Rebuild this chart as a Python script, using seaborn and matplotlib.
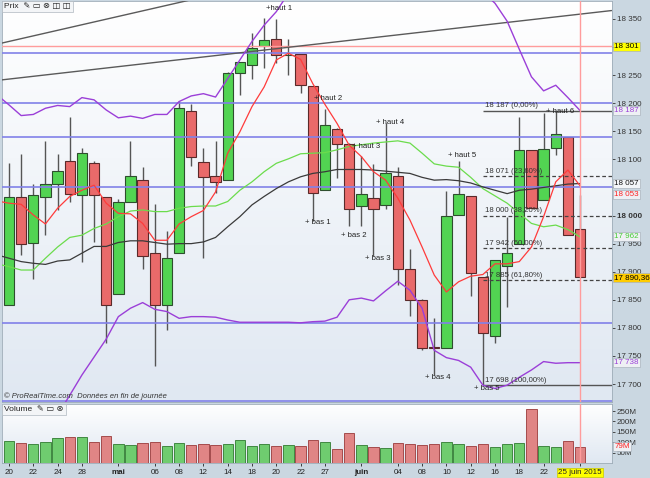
import matplotlib
matplotlib.use('Agg')
import matplotlib.pyplot as plt
import matplotlib.transforms as mtransforms
from matplotlib.colors import LinearSegmentedColormap
import numpy as np
import pandas as pd
import seaborn as sns

### Daily candles, 20 avril -> 25 juin 2015
opens = [17841, 18033, 17951, 18033, 18056, 18098, 18036, 18093, 18033, 17860,
         18025, 18063, 17934, 17840, 17933, 18187, 18095, 18070, 18063, 18253,
         18268, 18301, 18315, 18285, 18287, 18230, 18045, 18154, 18127, 18017,
         18032, 18018, 18071, 17904, 17849, 17766, 17765, 18001, 18035, 17890,
         17786, 17910, 17950, 18116, 18028, 18121, 18139, 17976]
highs = [18094, 18110, 18056, 18133, 18110, 18175, 18121, 18097, 18033, 18030,
         18133, 18086, 18020, 17973, 18204, 18199, 18120, 18133, 18256, 18273,
         18325, 18351, 18350, 18315, 18287, 18231, 18190, 18155, 18130, 18106,
         18092, 18164, 18086, 17940, 17851, 17817, 18044, 18098, 18035, 17890,
         17920, 17998, 18176, 18116, 18182, 18187, 18139, 18036]
lows = [17840, 17930, 17887, 17965, 18010, 18025, 17917, 17953, 17773, 17860,
        18025, 17904, 17732, 17796, 17933, 18089, 17924, 18040, 18063, 18215,
        18244, 18262, 18272, 18250, 18218, 17990, 18045, 18066, 17981, 17982,
        17928, 18011, 17876, 17821, 17760, 17716, 17765, 18001, 17857, 17698,
        17773, 17838, 17950, 18014, 18028, 18108, 17966, 17890.36]
closes = [18033, 17949, 18037, 18057, 18079, 18038, 18111, 18036, 17841, 18024,
          18070, 17928, 17841, 17924, 18191, 18105, 18068, 18060, 18253, 18273,
          18299, 18313, 18286, 18286, 18232, 18041, 18162, 18127, 18011, 18039,
          18012, 18076, 17905, 17849, 17765, 17764, 18000, 18038, 17898, 17791,
          17920, 17934, 18116, 18014, 18119, 18145, 17966, 17890.36]
volumes = [106, 97, 92, 101, 121, 124, 126, 101, 130, 92, 87, 97, 101, 82, 97, 87,
           90, 87, 92, 111, 80, 90, 80, 87, 80, 111, 100, 68, 143, 87, 77, 74,
           97, 90, 87, 92, 100, 90, 82, 92, 77, 92, 97, 260, 82, 77, 106, 79]

### Indicators, first value = 17 avril (off the left edge)
ma_red = [18026, 18022, 18020, 18001, 17985, 18013, 18034, 18045, 18054, 18022, 18004,
          18003, 17986, 17956, 17956, 17985, 17998, 18009, 18042, 18111, 18149,
          18194, 18229, 18277, 18289, 18278, 18235, 18198, 18164, 18125, 18105,
          18078, 18063, 18031, 17992, 17944, 17894, 17864, 17882, 17892, 17895,
          17914, 17914, 17918, 17944, 17998, 18060, 18081, 18053]
ma_black = [17930, 17924, 17918, 17915, 17913, 17919, 17921, 17933, 17945, 17945, 17952,
            17955, 17955, 17952, 17949, 17950, 17950, 17953, 17961, 17980, 17998,
            18019, 18034, 18048, 18060, 18069, 18075, 18078, 18082, 18082, 18082,
            18081, 18079, 18077, 18075, 18068, 18063, 18064, 18062, 18058, 18051,
            18045, 18039, 18045, 18047, 18050, 18053, 18056, 18057]
ma_green = [17914, 17909, 17903, 17903, 17924, 17944, 17961, 17965, 17977, 17985, 17998,
            18008, 18010, 18007, 18007, 18013, 18016, 18017, 18017, 18025, 18045,
            18060, 18078, 18093, 18101, 18110, 18111, 18112, 18117, 18123, 18126,
            18129, 18131, 18133, 18129, 18111, 18092, 18088, 18086, 18068, 18048,
            18035, 18022, 18004, 17986, 17980, 17983, 17975, 17962]
boll_up = [18215, 18197, 18178, 18180, 18191, 18196, 18194, 18210, 18206, 18188, 18174,
           18177, 18173, 18180, 18180, 18203, 18213, 18217, 18211, 18244, 18277,
           18310, 18339, 18363, 18396, 18411, 18411, 18412, 18415, 18396, 18399,
           18410, 18396, 18383, 18391, 18387, 18424, 18429, 18430, 18406, 18398,
           18378, 18346, 18296, 18247, 18222, 18232, 18210, 18187]
boll_low = [17600, 17610, 17620, 17630, 17640, 17645, 17680, 17716, 17748, 17780, 17820,
            17835, 17845, 17833, 17829, 17817, 17820, 17820, 17819, 17814, 17810,
            17810, 17810, 17810, 17810, 17809, 17811, 17812, 17819, 17850, 17853,
            17848, 17866, 17883, 17867, 17835, 17760, 17747, 17742, 17730, 17698,
            17692, 17698, 17712, 17725, 17740, 17737, 17738, 17738]

### Drawn objects
blue_levels = [18289, 18200, 18140, 18050, 17809, 17670]
pink_level = 18301
trend_a = [(0, 18310), (20, 18409)]
trend_b = [(0, 18243), (49.6, 18365)]
fib_start = 39
fib_levels = [18187, 18071, 18000, 17942, 17885, 17698]
fib_pct = ['0,00%', '23,60%', '38,20%', '50,00%', '61,80%', '100,00%']
pivots = [('+haut 1', 21.15, 18369), ('+ haut 2', 25.1, 18208), ('+ haut 3', 28.2, 18123),
          ('+ haut 4', 30.2, 18165), ('+ haut 5', 36.1, 18107), ('+ haut 6', 44.2, 18186),
          ('+ bas 1', 24.4, 17987), ('+ bas 2', 27.3, 17965), ('+ bas 3', 29.3, 17923),
          ('+ bas 4', 34.2, 17712), ('+ bas 5', 38.3, 17692)]

tick_idx = [0, 2, 4, 6, 9, 12, 14, 16, 18, 20, 22, 24, 26, 29, 32, 34, 36, 38, 40, 42, 44, 47]
tick_labels = ['20', '22', '24', '28', 'mai', '06', '08', '12', '14', '18', '20', '22', '27',
               'juin', '04', '08', '10', '12', '16', '18', '22', '25 juin 2015']


def fmt(v):
    return f'{v:,.0f}'.replace(',', ' ')


sns.set_theme(style='white')
plt.rcParams['font.family'] = ['Liberation Sans', 'DejaVu Sans']

W, H = 650, 478
fig = plt.figure(figsize=(6.5, 4.78), dpi=100, facecolor='#cad7e1')
axp = fig.add_axes([2 / W, 1 - 402 / H, 610 / W, 401 / H])
axv = fig.add_axes([2 / W, 1 - 463 / H, 610 / W, 59 / H], sharex=axp)

XMIN, XMAX = -0.576, 49.63
idx = np.arange(len(opens))
idx_ind = np.arange(-1, len(opens))
o = np.array(opens); c = np.array(closes)
up = c >= o
green, red = '#52d452', '#e96a6a'

# background gradients
bg = LinearSegmentedColormap.from_list('bg', ['#e0e8f2', '#ffffff'])
grad = np.linspace(0, 1, 128).reshape(-1, 1)
for ax in (axp, axv):
    ax.imshow(grad, extent=[0, 1, 0, 1], transform=ax.transAxes, cmap=bg,
              aspect='auto', origin='lower', zorder=0)
    for s in ax.spines.values():
        s.set_color('#9eacb8')
        s.set_linewidth(0.6)

# candles
axp.vlines(idx, lows, highs, color='#555555', lw=1.0, zorder=3)
body_bottom = np.minimum(o, c)
body_h = np.maximum(np.abs(c - o), 0.8)
axp.bar(idx, body_h, bottom=body_bottom, width=0.85,
        color=np.where(up, green, red), edgecolor=np.where(up, '#2e4e2e', '#5a2a2a'),
        lw=0.8, zorder=4)

# horizontal levels and trend lines
for lv in blue_levels:
    axp.axhline(lv, color='#8181e8', lw=1.2, zorder=4.5)
axp.axhline(pink_level, color='#ff9c9c', lw=1.0, zorder=4.5)
for (x0, y0), (x1, y1) in (trend_a, trend_b):
    slope = (y1 - y0) / (x1 - x0)
    axp.plot([XMIN, x1], [y0 + slope * (XMIN - x0), y1], color='#5a5a5a', lw=1.0, zorder=4.6)

# indicator lines
sns.lineplot(x=idx_ind, y=boll_up, color='#9b3fd8', lw=1.0, ax=axp, zorder=5)
sns.lineplot(x=idx_ind, y=boll_low, color='#9b3fd8', lw=1.0, ax=axp, zorder=5)
sns.lineplot(x=idx_ind, y=ma_green, color='#6bdc4c', lw=0.9, ax=axp, zorder=5)
sns.lineplot(x=idx_ind, y=ma_black, color='#3a3a3a', lw=0.9, ax=axp, zorder=5)
sns.lineplot(x=idx_ind, y=ma_red, color='#ff3b3b', lw=0.9, ax=axp, zorder=5.2)

# fibonacci retracement
for i, (lv, pct) in enumerate(zip(fib_levels, fib_pct)):
    if i in (0, len(fib_levels) - 1):
        axp.hlines(lv, fib_start, XMAX, color='#555555', lw=1.0, zorder=4.7)
    else:
        axp.hlines(lv, fib_start, XMAX, color='#444444', lw=0.9, linestyles=(0, (3, 2)), zorder=4.7)
    axp.text(fib_start + 0.15, lv + 2, f'{fmt(lv)} ({pct})', fontsize=5.6, color='#333333',
             va='bottom', ha='left', zorder=6)

# pivot labels
for lab, xi, yv in pivots:
    axp.text(xi, yv, lab, fontsize=5.6, color='#222222', va='center', ha='left', zorder=6)

# current day vertical line
for ax in (axp, axv):
    ax.axvline(47, color='#ff9c9c', lw=1.0, zorder=6)

axp.set_xlim(XMIN, XMAX)
axp.set_ylim(17668, 18382)
axp.yaxis.tick_right()
yt = list(range(17700, 18351, 50))
axp.set_yticks(yt)
# 18 300 and 18 050 sit fully behind the value boxes
axp.set_yticklabels(['' if v in (18300, 18050) else fmt(v) for v in yt])
axp.tick_params(axis='y', labelsize=5.8, colors='#333333', length=2, pad=1.5, width=0.6)
for t in axp.get_yticklabels():
    if t.get_text() == '18 000':
        t.set_fontweight('bold')
axp.tick_params(axis='x', bottom=False, labelbottom=False)
axp.set_xlabel('')
axp.set_ylabel('')

# right value boxes
trans = mtransforms.blended_transform_factory(axp.transAxes, axp.transData)
boxes = [(18301, '18 301', '#000000', '#ffff00', 0),
         (18187, '18 187', '#9b3fd8', '#eef0f4', 0),
         (18057, '18 057', '#111111', '#f4f6f8', 0),
         (18053, '18 053', '#ff2020', '#eef0f4', -6.5),
         (17962, '17 962', '#44cc33', '#eef0f4', 0),
         (17890.36, '17 890,36', '#000000', '#ffcc00', 0),
         (17738, '17 738', '#9b3fd8', '#eef0f4', 0)]
for yv, lab, col, fc, dy in boxes:
    axp.annotate(lab, (1.004, yv), xycoords=trans, xytext=(0, dy), textcoords='offset points',
                 fontsize=5.8, color=col, va='center', ha='left', annotation_clip=False, zorder=10,
                 bbox=dict(boxstyle='square,pad=0.12', fc=fc, ec='#aab4be', lw=0.5))

# headers
axp.text(0.004, 0.994, 'Prix  ✎ ▭ ⊗ ◫ ◫', transform=axp.transAxes, fontsize=6, color='#222222',
         va='top', ha='left', zorder=10,
         bbox=dict(boxstyle='square,pad=0.25', fc='#f3f5f7', ec='#b0b8c0', lw=0.5))
axp.text(0.004, 0.006, '© ProRealTime.com  Données en fin de journée', transform=axp.transAxes,
         fontsize=5.5, style='italic', color='#333333', va='bottom', ha='left', zorder=10)

# volume
vol_df = pd.DataFrame({'idx': idx, 'vol': volumes, 'dir': np.where(up, 'up', 'down')})
sns.barplot(data=vol_df, x='idx', y='vol', hue='dir', palette={'up': '#5fdc5f', 'down': '#ef7676'},
            dodge=False, native_scale=True, width=0.85, legend=False, ax=axv, zorder=3)
for p in axv.patches:
    fcol = p.get_facecolor()
    p.set_edgecolor('#2f7a2f' if fcol[1] > fcol[0] else '#9a3a3a')
    p.set_linewidth(0.6)
axv.set_xlim(XMIN, XMAX)
axv.set_ylim(0, 284)
axv.yaxis.tick_right()
axv.set_yticks([50, 100, 150, 200, 250])
axv.set_yticklabels(['50M', '100M', '150M', '200M', '250M'])
axv.tick_params(axis='y', labelsize=5.8, colors='#333333', length=2, pad=1.5, width=0.6)
axv.set_xticks(tick_idx)
axv.set_xticklabels(tick_labels)
axv.tick_params(axis='x', labelsize=5.8, colors='#222222', length=2, pad=2, width=0.6, bottom=True)
for t in axv.get_xticklabels():
    if t.get_text() in ('mai', 'juin'):
        t.set_fontweight('bold')
    if t.get_text() == '25 juin 2015':
        t.set_bbox(dict(boxstyle='square,pad=0.12', fc='#ffff00', ec='#c8c800', lw=0.5))
axv.set_xlabel('')
axv.set_ylabel('')
transv = mtransforms.blended_transform_factory(axv.transAxes, axv.transData)
axv.text(1.004, 79, '79M', transform=transv, fontsize=5.8, color='#ff2020', va='center', ha='left',
         zorder=10, clip_on=False, bbox=dict(boxstyle='square,pad=0.12', fc='#eef0f4', ec='#aab4be', lw=0.5))
axv.text(0.004, 0.97, 'Volume  ✎ ▭ ⊗', transform=axv.transAxes, fontsize=6, color='#222222',
         va='top', ha='left', zorder=10,
         bbox=dict(boxstyle='square,pad=0.25', fc='#f3f5f7', ec='#b0b8c0', lw=0.5))

fig.savefig('out.png', dpi=100, facecolor=fig.get_facecolor())
